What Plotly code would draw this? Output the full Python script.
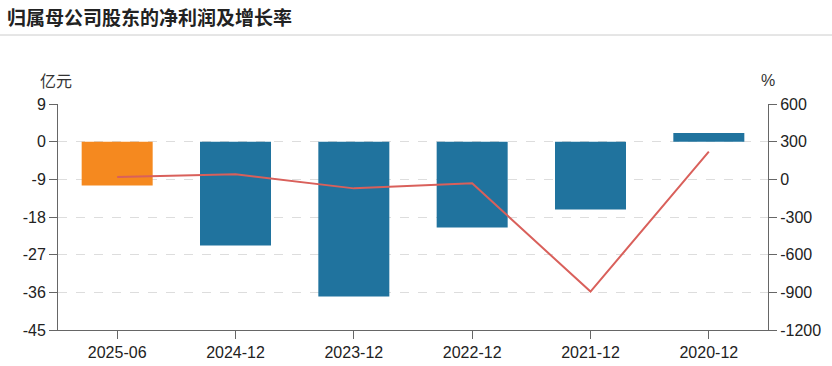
import plotly.graph_objects as go

categories = ["2025-06", "2024-12", "2023-12", "2022-12", "2021-12", "2020-12"]
net_profit = [-10.5, -24.8, -37.0, -20.5, -16.2, 2.1]
growth_rate = [18, 40, -72, -32, -894, 220]
bar_colors = ["#F5891F", "#20739E", "#20739E", "#20739E", "#20739E", "#20739E"]

left_ticks = [9, 0, -9, -18, -27, -36, -45]
right_ticks = [600, 300, 0, -300, -600, -900, -1200]

W, H = 832, 366
L, R, T, B = 58, 64, 104, 36
pw, ph = W - L - R, H - T - B

def px(x):
    return (x - L) / pw

def py(y):
    return (H - B - y) / ph

font_family = "Liberation Sans, Arial, Noto Sans CJK SC, sans-serif"
cjk = "Noto Sans CJK SC, sans-serif"

fig = go.Figure()
fig.add_trace(go.Bar(
    x=categories, y=net_profit, marker=dict(color=bar_colors, line=dict(width=0)),
    width=0.6, yaxis="y", name="净利润"))
fig.add_trace(go.Scatter(
    x=categories, y=growth_rate, mode="lines", line=dict(color="#D9605B", width=2),
    yaxis="y2", name="增长率"))

tick_font = dict(size=16, color="#222", family=font_family)

fig.update_layout(
    width=W, height=H,
    margin=dict(l=L, r=R, t=T, b=B, autoexpand=False),
    plot_bgcolor="white", paper_bgcolor="white",
    showlegend=False,
    font=dict(family=font_family, size=16, color="#222"),
    xaxis=dict(
        type="category", range=[-0.5, 5.5], automargin=False,
        showline=True, linecolor="#666", linewidth=1,
        ticks="outside", ticklen=8, tickcolor="#666",
        showgrid=False, tickfont=tick_font,
    ),
    yaxis=dict(
        range=[-45, 9], tickvals=left_ticks, ticktext=[str(v) for v in left_ticks],
        automargin=False,
        showline=True, linecolor="#666", linewidth=1,
        ticks="outside", ticklen=8, tickcolor="#666",
        showgrid=True, gridcolor="#dddddd", griddash="dash", gridwidth=1,
        zeroline=False, tickfont=tick_font,
    ),
    yaxis2=dict(
        range=[-1200, 600], tickvals=right_ticks, ticktext=[str(v) for v in right_ticks],
        automargin=False,
        overlaying="y", side="right",
        showline=True, linecolor="#666", linewidth=1,
        ticks="outside", ticklen=8, tickcolor="#666",
        showgrid=False, zeroline=False, tickfont=tick_font,
    ),
)

fig.add_annotation(text="<b>归属母公司股东的净利润及增长率</b>", xref="paper", yref="paper",
                   x=px(5), y=py(17), xanchor="left", yanchor="middle", showarrow=False,
                   font=dict(family=cjk, size=19, color="#222"))
fig.add_shape(type="line", xref="paper", yref="paper", x0=px(0), x1=px(W), y0=py(35), y1=py(35),
              line=dict(color="#cccccc", width=1))
fig.add_annotation(text="亿元", xref="paper", yref="paper", x=px(56), y=py(80),
                   xanchor="center", yanchor="middle", showarrow=False,
                   font=dict(family=cjk, size=16, color="#333"))
fig.add_annotation(text="%", xref="paper", yref="paper", x=px(768), y=py(80),
                   xanchor="center", yanchor="middle", showarrow=False,
                   font=dict(family=font_family, size=16, color="#333"))

fig.write_html("out.html", config={"displayModeBar": False},
               post_script="document.body.style.margin='0';")
